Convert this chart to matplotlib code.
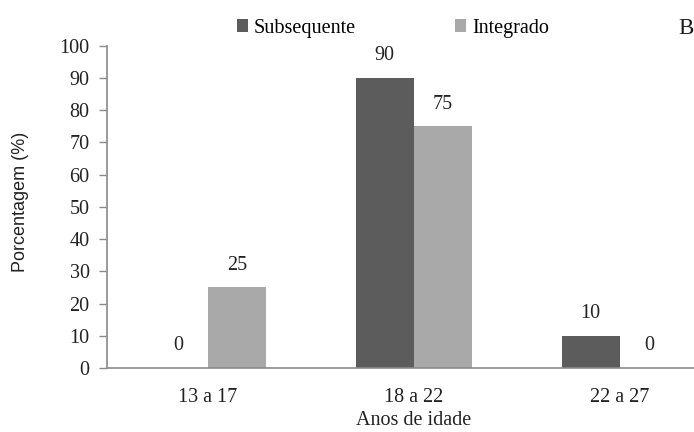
import matplotlib
matplotlib.use("Agg")
import matplotlib.pyplot as plt
import numpy as np

categories = ["13 a 17", "18 a 22", "22 a 27"]
subsequente = [0, 90, 10]
integrado = [25, 75, 0]
series_names = ["Subsequente", "Integrado"]
y_ticks = [0, 10, 20, 30, 40, 50, 60, 70, 80, 90, 100]

plt.rcParams["font.family"] = ["Liberation Serif", "DejaVu Serif"]
FS = 14.5
dark = "#5c5c5c"
light = "#a9a9a9"
axis_col = "#8a8a8a"
txt = "#222222"

fig = plt.figure(figsize=(6.94, 4.32), dpi=100)
ax = fig.add_axes([0.154, 0.148, 0.846, 0.746])

x = np.arange(len(categories))
w = 0.283
b1 = ax.bar(x - w / 2, subsequente, w, color=dark, label=series_names[0])
b2 = ax.bar(x + w / 2, integrado, w, color=light, label=series_names[1])

for bars, vals in ((b1, subsequente), (b2, integrado)):
    for rect, v in zip(bars, vals):
        ax.annotate(f"{v}", (rect.get_x() + rect.get_width() / 2, v),
                    xytext=(0, 16), textcoords="offset points",
                    ha="center", va="center", fontsize=FS, color=txt)

ax.set_xlim(-0.49, 2.36)
ax.set_ylim(0, 100)
ax.set_yticks(y_ticks)
ax.set_xticks(x)
ax.set_xticklabels(categories)
ax.tick_params(axis="x", length=0, pad=14.5, labelsize=FS, colors=txt)
ax.tick_params(axis="y", length=6, width=1, color=axis_col, pad=6.5,
               labelsize=FS, labelcolor=txt)
for s in ("top", "right"):
    ax.spines[s].set_visible(False)
for s in ("left", "bottom"):
    ax.spines[s].set_color(axis_col)
    ax.spines[s].set_linewidth(1.2)

fig.text(0.03, 0.532, "Porcentagem (%)", rotation=90, fontsize=13,
         family=["Liberation Sans", "DejaVu Sans"],
         ha="center", va="center", color=txt)
fig.text(0.5965, 0.027, "Anos de idade", fontsize=FS,
         ha="center", va="center", color=txt)

fig.legend(handles=[b1, b2], labels=series_names, loc="center",
           bbox_to_anchor=(0.566, 0.935), ncol=2, frameon=False,
           fontsize=FS, handlelength=0.55, handleheight=0.55,
           handletextpad=0.3, columnspacing=4.9, borderaxespad=0)
fig.text(0.999, 0.935, "B", fontsize=16.5, ha="right", va="center",
         color="#1a1a1a")

fig.savefig("out.png", dpi=100)
